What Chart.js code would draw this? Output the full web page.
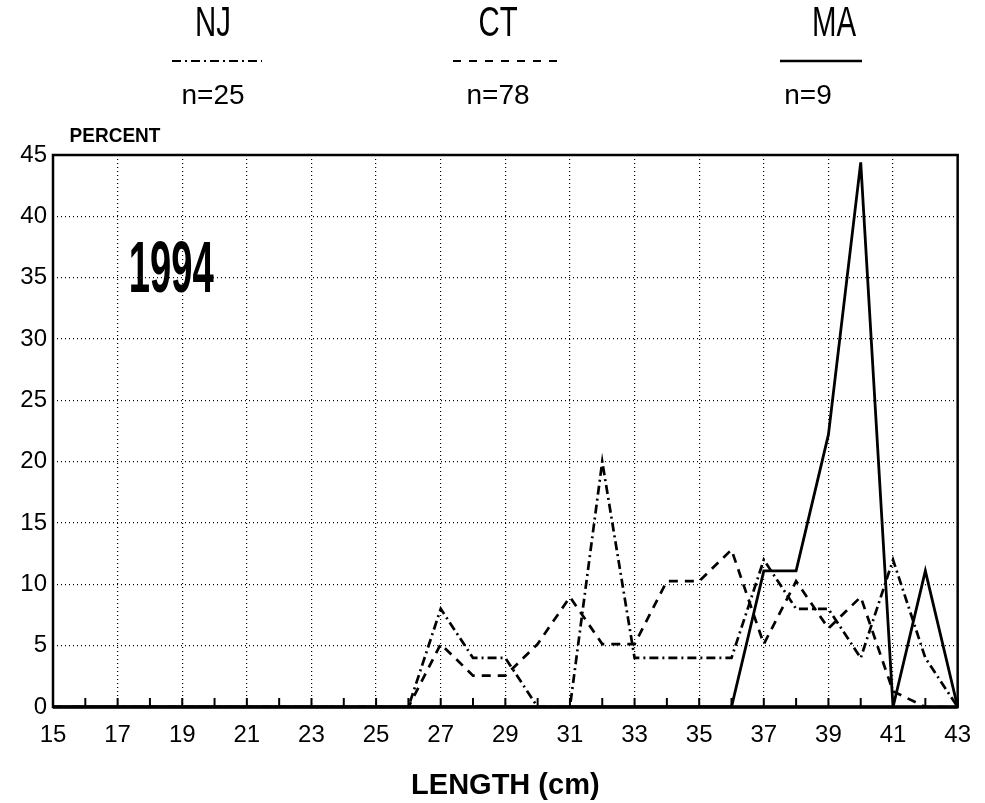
<!DOCTYPE html>
<html>
<head>
<meta charset="utf-8">
<script src="https://cdn.jsdelivr.net/npm/chart.js@4"></script>
<style>
  html, body { margin: 0; padding: 0; background: #fff; }
  #wrap { width: 985px; height: 803px; }
</style>
</head>
<body>
<div id="wrap"><canvas id="chart" width="985" height="803"></canvas></div>
<script>
// length classes (cm)
const lengths = [15, 16, 17, 18, 19, 20, 21, 22, 23, 24, 25, 26, 27, 28, 29,
                 30, 31, 32, 33, 34, 35, 36, 37, 38, 39, 40, 41, 42, 43];

// percent of fish at each length, by state
const njPct = [0, 0, 0, 0, 0, 0, 0, 0, 0, 0, 0, 0, 8, 4, 4,
               0, 0, 20, 4, 4, 4, 4, 12, 8, 8, 4, 12, 4, 0];
const ctPct = [0, 0, 0, 0, 0, 0, 0, 0, 0, 0, 0, 0, 5.13, 2.56, 2.56,
               5.13, 8.97, 5.13, 5.13, 10.26, 10.26, 12.82, 5.13, 10.26, 6.41, 8.97, 1.28, 0, 0];
const maPct = [0, 0, 0, 0, 0, 0, 0, 0, 0, 0, 0, 0, 0, 0, 0,
               0, 0, 0, 0, 0, 0, 0, 11.1, 11.1, 22.2, 44.4, 0, 11.1, 0];

const states = ["NJ", "CT", "MA"];
const sampleSizes = ["n=25", "n=78", "n=9"];
const yearLabel = "1994";

const FONT = "'Liberation Sans', Arial, sans-serif";
const dashNJ = [9, 4, 2, 4];
const dashCT = [9, 7];

const toXY = arr => arr.map((v, i) => ({ x: lengths[i], y: v }));

// legend header, frame, inner ticks and the year stamp
const decorations = {
  id: "decorations",
  afterDraw(chart) {
    const { ctx, chartArea: a, scales } = chart;
    const xs = scales.x, ys = scales.y;
    ctx.save();

    // condensed text helper
    const squeezed = (txt, cx, by, font, sx) => {
      ctx.save();
      ctx.font = font;
      ctx.translate(cx, by);
      ctx.scale(sx, 1);
      ctx.textAlign = "center";
      ctx.textBaseline = "alphabetic";
      ctx.fillText(txt, 0, 0);
      ctx.restore();
    };
    ctx.fillStyle = "#000";
    ctx.strokeStyle = "#000";

    const cols = [
      { cx: 213, x0: 172, x1: 262, dash: dashNJ, w: 2 },
      { cx: 498, x0: 453, x1: 560, dash: [8, 8], w: 2 },
      { cx: 834, x0: 780, x1: 862, dash: [], w: 2.5 }
    ];
    cols.forEach((c, i) => {
      squeezed(states[i], c.cx, 36, `42px ${FONT}`, 0.7);
      ctx.beginPath();
      ctx.lineWidth = c.w;
      ctx.setLineDash(c.dash);
      ctx.moveTo(c.x0, 61);
      ctx.lineTo(c.x1, 61);
      ctx.stroke();
      ctx.setLineDash([]);
    });
    squeezed(sampleSizes[0], 213, 104, `28px ${FONT}`, 1.0);
    squeezed(sampleSizes[1], 498, 104, `28px ${FONT}`, 1.0);
    squeezed(sampleSizes[2], 808, 104, `28px ${FONT}`, 1.0);

    squeezed("PERCENT", 115, 142, `bold 20px ${FONT}`, 0.95);

    // small tick marks standing up from the baseline at every cm
    ctx.lineWidth = 2;
    for (let v = 15; v <= 43; v++) {
      const px = xs.getPixelForValue(v);
      ctx.beginPath();
      ctx.moveTo(px, a.bottom);
      ctx.lineTo(px, a.bottom - 9);
      ctx.stroke();
    }

    // frame
    ctx.lineWidth = 2.5;
    ctx.strokeRect(a.left, a.top, a.right - a.left, a.bottom - a.top);
    ctx.lineWidth = 3.5;
    ctx.beginPath();
    ctx.moveTo(a.left, a.bottom);
    ctx.lineTo(a.right, a.bottom);
    ctx.stroke();

    // year stamp
    squeezed(yearLabel, xs.getPixelForValue(18.66), ys.getPixelForValue(33.8),
             `bold 72px ${FONT}`, 0.53);

    ctx.restore();
  }
};

const base = { borderColor: "#000", backgroundColor: "#000", pointRadius: 0,
               tension: 0, fill: false };

new Chart(document.getElementById("chart"), {
  type: "line",
  data: {
    datasets: [
      { ...base, label: "NJ", data: toXY(njPct), borderWidth: 2.7, borderDash: dashNJ },
      { ...base, label: "CT", data: toXY(ctPct), borderWidth: 2.7, borderDash: dashCT },
      { ...base, label: "MA", data: toXY(maPct), borderWidth: 2.8 }
    ]
  },
  options: {
    responsive: false,
    animation: false,
    layout: { padding: { left: 0, top: 155, right: 17, bottom: 0 } },
    plugins: { legend: { display: false }, tooltip: { enabled: false } },
    scales: {
      x: {
        type: "linear",
        min: 15,
        max: 43,
        afterFit: s => { s.height = 96; },
        ticks: {
          stepSize: 1,
          autoSkip: false,
          maxRotation: 0,
          padding: 14,
          color: "#000",
          font: { family: FONT, size: 24 },
          callback: v => (v % 2 === 1 ? String(v) : "")
        },
        grid: {
          drawTicks: false,
          lineWidth: 1.2,
          color: c => (c.tick && c.tick.value % 2 === 1 ? "#000" : "rgba(0,0,0,0)")
        },
        border: { display: false, dash: [1, 3] },
        title: {
          display: true,
          text: "LENGTH (cm)",
          color: "#000",
          font: { family: FONT, size: 29, weight: "bold" },
          padding: { top: 8, bottom: 0 }
        }
      },
      y: {
        min: 0,
        max: 45,
        afterFit: s => { s.width = 53; },
        ticks: {
          stepSize: 5,
          padding: 6,
          color: "#000",
          font: { family: FONT, size: 24 }
        },
        grid: { drawTicks: false, lineWidth: 1.2, color: "#000" },
        border: { display: false, dash: [1, 3] }
      }
    }
  },
  plugins: [decorations]
});
</script>
</body>
</html>
